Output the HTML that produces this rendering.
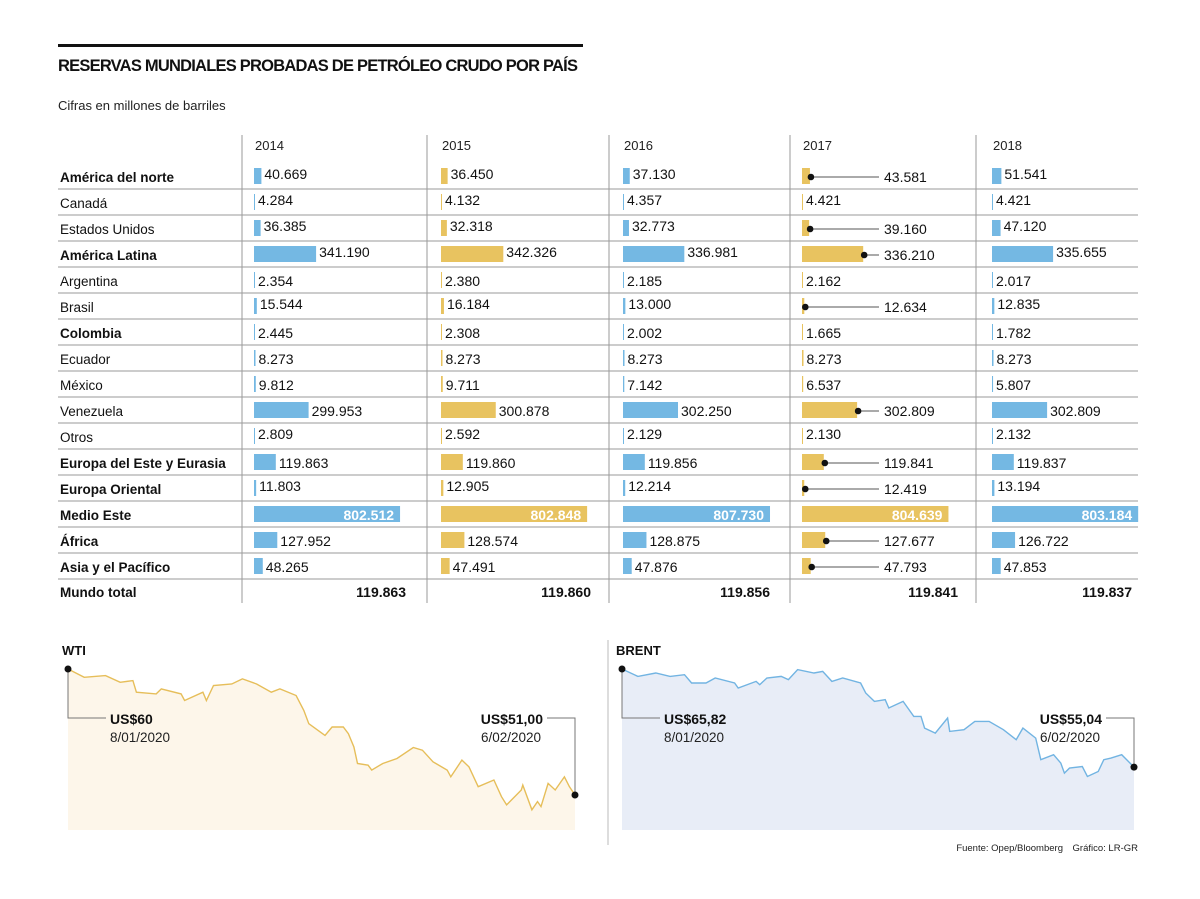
<!DOCTYPE html>
<html><head><meta charset="utf-8">
<style>
html,body{margin:0;padding:0;background:#fff;}
svg{display:block;font-family:"Liberation Sans",sans-serif;}
</style></head>
<body>
<svg id="chart" width="1200" height="899" viewBox="0 0 1200 899">
<rect x="58" y="44" width="525" height="3" fill="#111"/>
<text x="58" y="71" font-size="16.5" font-weight="bold" fill="#111" textLength="520">RESERVAS MUNDIALES PROBADAS DE PETRÓLEO CRUDO POR PAÍS</text>
<text x="58" y="110" font-size="13" fill="#222">Cifras en millones de barriles</text>
<g id="table"></g>
<g id="wti"></g>
<g id="brent"></g>
<line x1="608" y1="640" x2="608" y2="845" stroke="#bbb" stroke-width="1"/>
<text x="1063" y="851" font-size="9.5" fill="#222" text-anchor="end">Fuente: Opep/Bloomberg</text>
<text x="1138" y="851" font-size="9.5" fill="#222" text-anchor="end">Gráfico: LR-GR</text>
</svg>
<script>
const years = ["2014","2015","2016","2017","2018"];
const regions = ["América del norte","Canadá","Estados Unidos","América Latina","Argentina","Brasil","Colombia","Ecuador","México","Venezuela","Otros","Europa del Este y Eurasia","Europa Oriental","Medio Este","África","Asia y el Pacífico"];
const boldRows = [1,0,0,1,0,0,1,0,0,0,0,1,1,1,1,1];
const v2014 = [40.669,4.284,36.385,341.190,2.354,15.544,2.445,8.273,9.812,299.953,2.809,119.863,11.803,802.512,127.952,48.265];
const v2015 = [36.450,4.132,32.318,342.326,2.380,16.184,2.308,8.273,9.711,300.878,2.592,119.860,12.905,802.848,128.574,47.491];
const v2016 = [37.130,4.357,32.773,336.981,2.185,13.000,2.002,8.273,7.142,302.250,2.129,119.856,12.214,807.730,128.875,47.876];
const v2017 = [43.581,4.421,39.160,336.210,2.162,12.634,1.665,8.273,6.537,302.809,2.130,119.841,12.419,804.639,127.677,47.793];
const v2018 = [51.541,4.421,47.120,335.655,2.017,12.835,1.782,8.273,5.807,302.809,2.132,119.837,13.194,803.184,126.722,47.853];
const worldTotals = [119.863,119.860,119.856,119.841,119.837];
const leaderRows2017 = [1,0,1,1,0,1,0,0,0,1,0,1,1,0,1,1];

const wtiDays = [0,3.2,7.4,10.3,12.8,13.5,17.4,18.4,22.3,23.0,26.6,27.3,28.7,32.3,34.4,37.2,40.1,41.8,45.0,46.5,47.5,50.7,52.1,54.3,55.3,56.4,57.1,59.2,59.9,62.1,64.9,68.1,69.9,72.0,74.8,75.5,77.7,79.1,80.9,84.0,85.5,86.5,89.4,89.7,91.5,92.6,93.3,94.7,96.1,97.9,98.9,100];
const wtiPrices = [60.0,59.41,59.53,59.05,59.17,58.34,58.22,58.58,58.22,57.75,58.34,57.75,58.82,58.93,59.29,58.93,58.34,58.58,58.11,57.04,56.09,55.26,55.86,55.86,55.38,54.43,53.25,53.13,52.78,53.25,53.61,54.39,54.20,53.37,52.78,52.30,53.49,53.01,51.59,52.07,50.88,50.29,51.36,51.71,49.94,50.53,50.17,51.83,51.36,52.30,51.59,51.0];
const brentDays = [0,3.1,6.6,9.4,12.2,13.6,16.4,18.2,22.0,22.7,26.2,26.9,28.3,31.1,32.5,34.3,37.5,39.2,41.0,43.1,46.6,47.6,49.3,51.4,52.1,54.9,57.0,58.4,59.1,61.2,63.6,64.0,66.8,68.9,71.7,74.5,77.0,78.3,80.8,81.8,84.3,85.7,86.4,87.4,89.9,90.9,93.0,94.1,95.5,97.6,100];
const brentPrices = [65.82,65.01,65.38,65.01,65.19,64.28,64.28,64.83,64.28,63.73,64.46,64.10,64.83,65.01,64.65,65.75,65.38,65.56,64.46,64.83,64.28,63.18,62.26,62.45,61.53,62.26,60.61,60.61,59.33,58.78,60.43,58.96,59.15,60.06,60.06,59.15,58.05,59.33,58.23,55.85,56.40,55.48,54.38,54.93,55.11,54.01,54.56,55.85,56.03,56.40,55.04];

const NS="http://www.w3.org/2000/svg";
function mk(parent,tag,attrs,text){const e=document.createElementNS(NS,tag);for(const k in attrs)e.setAttribute(k,attrs[k]);if(text!==undefined)e.textContent=text;parent.appendChild(e);return e;}
function fmt(v){return v.toFixed(3);}

// ----- table -----
const T=document.getElementById('table');
const yearVals=[v2014,v2015,v2016,v2017,v2018];
const colX=[254,441,623,802,992];
const colRight=[406,591,770,958,1132];
const divX=[242,427,609,790,976];
const colors=["#74b8e3","#e8c360","#74b8e3","#e8c360","#74b8e3"];
const barScale=v=>v*0.182;
const rowY=i=>177+i*26;

for(let i=0;i<=15;i++){
  const l=mk(T,'line',{x1:58,x2:1138,y1:189+i*26,y2:189+i*26,stroke:'#9a9a9a','stroke-width':1});
  
  
}
divX.forEach(x=>{
  const l=mk(T,'line',{x1:x,x2:x,y1:135,y2:603,stroke:'#9a9a9a','stroke-width':1});
  
  
});
years.forEach((y,c)=>{
  const t=mk(T,'text',{x:colX[c]+1,y:150,'font-size':13,fill:'#222'},y);
  
  
});
regions.forEach((r,i)=>{
  const t=mk(T,'text',{x:60,y:rowY(i)+5,'font-size':13.5,fill:'#111','font-weight':boldRows[i]?'bold':'normal'},r);
  
  
});
const wt=mk(T,'text',{x:60,y:597,'font-size':13.5,'font-weight':'bold',fill:'#111'},'Mundo total');



yearVals.forEach((vals,c)=>{
  vals.forEach((v,i)=>{
    const w=Math.max(1,barScale(v));
    const y=rowY(i);
    const b=mk(T,'rect',{x:colX[c],y:y-9,width:w,height:16,fill:colors[c]});
    
    
    let t;
    if(i===13){
      t=mk(T,'text',{x:colX[c]+w-6,y:y+5,'font-size':14,'font-weight':'bold',fill:'#fff','text-anchor':'end'},fmt(v));
    } else if(c===3 && leaderRows2017[i]){
      const ex=colX[c]+w+1;
      const ln=mk(T,'line',{x1:ex,x2:879,y1:y,y2:y,stroke:'#555','stroke-width':1});
      
      
      const d=mk(T,'circle',{cx:ex,cy:y,r:3.3,fill:'#111'});
      
      
      t=mk(T,'text',{x:884,y:y+5,'font-size':14,fill:'#111'},fmt(v));
    } else {
      t=mk(T,'text',{x:colX[c]+w+3,y:y+(i<3||i===3||i===5||i===10||i===12?2:5),'font-size':14,fill:'#111'},fmt(v));
    }
    
    
  });
  const tt=mk(T,'text',{x:colRight[c],y:597,'font-size':14,'font-weight':'bold',fill:'#111','text-anchor':'end'},fmt(worldTotals[c]));
  
  
});

// ----- line charts -----
function lineChart(g,opt){
  const xs=d=>opt.x0+d*(opt.x1-opt.x0)/100;
  const ys=p=>opt.yTop+(opt.pTop-p)*opt.k;
  const t=mk(g,'text',{x:opt.x0-6,y:655,'font-size':13,'font-weight':'bold',fill:'#111'},opt.name);
  
  
  let d='';
  opt.days.forEach((dd,i)=>{d+=(i?'L':'M')+xs(dd).toFixed(1)+','+ys(opt.prices[i]).toFixed(1);});
  const area=mk(g,'path',{d:d+'L'+opt.x1+',830L'+opt.x0+',830Z',fill:opt.fill});
  
  
  const line=mk(g,'path',{d:d,fill:'none',stroke:opt.stroke,'stroke-width':1.4});
  
  
  const sy=ys(opt.prices[0]), ey=ys(opt.prices[opt.prices.length-1]);
  const c1=mk(g,'path',{d:`M${opt.x0},${sy}L${opt.x0},718L${opt.x0+38},718`,fill:'none',stroke:'#777','stroke-width':1});
  
  
  const c2=mk(g,'path',{d:`M${opt.x1},${ey}L${opt.x1},718L${opt.x1-28},718`,fill:'none',stroke:'#777','stroke-width':1});
  
  
  [[opt.x0,sy],[opt.x1,ey]].forEach(p=>{
    const c=mk(g,'circle',{cx:p[0],cy:p[1],r:3.5,fill:'#111'});
    
    
  });
  const a=mk(g,'text',{x:opt.x0+42,y:724,'font-size':14,'font-weight':'bold',fill:'#111'},opt.startLabel);
  
  
  const a2=mk(g,'text',{x:opt.x0+42,y:742,'font-size':13.5,fill:'#222'},opt.startDate);
  
  
  const b=mk(g,'text',{x:opt.x1-32,y:724,'font-size':14,'font-weight':'bold',fill:'#111','text-anchor':'end'},opt.endLabel);
  
  
  const b2=mk(g,'text',{x:opt.x1-34,y:742,'font-size':13.5,fill:'#222','text-anchor':'end'},opt.endDate);
  
  
}
lineChart(document.getElementById('wti'),{name:'WTI',x0:68,x1:575,yTop:669,pTop:60,k:14.0,days:wtiDays,prices:wtiPrices,fill:'#fdf6ea',stroke:'#e6be5a',startLabel:'US$60',startDate:'8/01/2020',endLabel:'US$51,00',endDate:'6/02/2020'});
lineChart(document.getElementById('brent'),{name:'BRENT',x0:622,x1:1134,yTop:669,pTop:65.82,k:9.1,days:brentDays,prices:brentPrices,fill:'#e8edf7',stroke:'#72b4e2',startLabel:'US$65,82',startDate:'8/01/2020',endLabel:'US$55,04',endDate:'6/02/2020'});
</script>
</body></html>
